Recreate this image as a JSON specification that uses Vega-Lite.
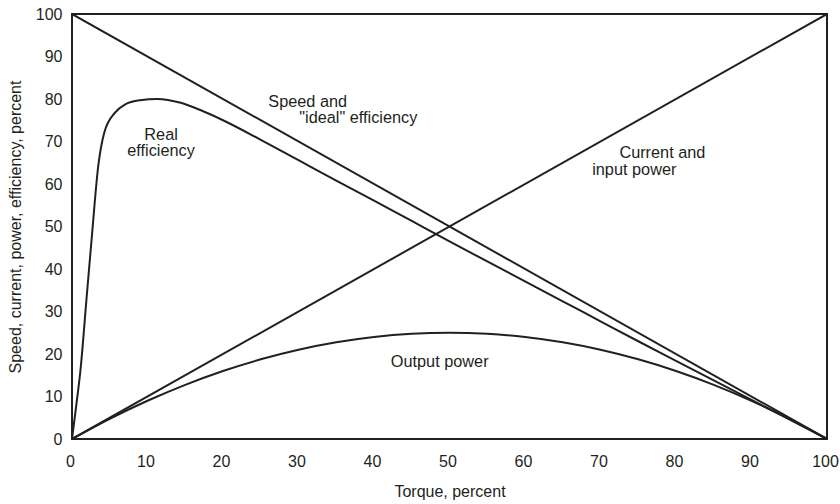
{
  "$schema": "https://vega.github.io/schema/vega-lite/v6.json",
  "width": 755,
  "height": 425,
  "autosize": {"type": "none"},
  "padding": {"left": 72, "top": 14, "right": 13, "bottom": 65},
  "background": "white",
  "config": {
    "view": {"stroke": "#231f20", "strokeWidth": 2},
    "font": "Liberation Sans",
    "axis": {"grid": false, "domain": false, "ticks": false, "labelFlush": false, "labelFont": "Liberation Sans", "titleFont": "Liberation Sans", "labelColor": "#231f20", "titleColor": "#231f20", "titleFontWeight": "normal"}
  },
  "datasets": {
    "curves": [
      {"series": "speed", "x": 0, "y": 100},
      {"series": "speed", "x": 100, "y": 0},
      {"series": "current", "x": 0, "y": 0},
      {"series": "current", "x": 100, "y": 100},
      {"series": "output", "x": 0, "y": 0},
      {"series": "output", "x": 5, "y": 4.75},
      {"series": "output", "x": 10, "y": 9},
      {"series": "output", "x": 15, "y": 12.75},
      {"series": "output", "x": 20, "y": 16},
      {"series": "output", "x": 25, "y": 18.75},
      {"series": "output", "x": 30, "y": 21},
      {"series": "output", "x": 35, "y": 22.75},
      {"series": "output", "x": 40, "y": 24},
      {"series": "output", "x": 45, "y": 24.75},
      {"series": "output", "x": 50, "y": 25},
      {"series": "output", "x": 55, "y": 24.75},
      {"series": "output", "x": 60, "y": 24},
      {"series": "output", "x": 65, "y": 22.75},
      {"series": "output", "x": 70, "y": 21},
      {"series": "output", "x": 75, "y": 18.75},
      {"series": "output", "x": 80, "y": 16},
      {"series": "output", "x": 85, "y": 12.75},
      {"series": "output", "x": 90, "y": 9},
      {"series": "output", "x": 95, "y": 4.75},
      {"series": "output", "x": 100, "y": 0},
      {"series": "eff", "x": 0, "y": 0},
      {"series": "eff", "x": 0.5, "y": 7},
      {"series": "eff", "x": 1.15, "y": 16.7},
      {"series": "eff", "x": 1.9, "y": 32.5},
      {"series": "eff", "x": 2.66, "y": 48.3},
      {"series": "eff", "x": 3.46, "y": 64},
      {"series": "eff", "x": 4.26, "y": 72},
      {"series": "eff", "x": 5.7, "y": 76.8},
      {"series": "eff", "x": 7, "y": 78.7},
      {"series": "eff", "x": 9, "y": 79.7},
      {"series": "eff", "x": 11.3, "y": 80},
      {"series": "eff", "x": 14.4, "y": 79.1},
      {"series": "eff", "x": 17, "y": 77.4},
      {"series": "eff", "x": 20, "y": 75},
      {"series": "eff", "x": 25, "y": 70.4},
      {"series": "eff", "x": 30, "y": 65.6},
      {"series": "eff", "x": 35, "y": 60.8},
      {"series": "eff", "x": 40, "y": 56.1},
      {"series": "eff", "x": 45, "y": 51.3},
      {"series": "eff", "x": 50, "y": 46.5},
      {"series": "eff", "x": 55, "y": 41.8},
      {"series": "eff", "x": 60, "y": 37.1},
      {"series": "eff", "x": 65, "y": 32.4},
      {"series": "eff", "x": 70, "y": 27.7},
      {"series": "eff", "x": 75, "y": 23},
      {"series": "eff", "x": 80, "y": 18.4},
      {"series": "eff", "x": 85, "y": 13.8},
      {"series": "eff", "x": 90, "y": 9.2},
      {"series": "eff", "x": 95, "y": 4.6},
      {"series": "eff", "x": 100, "y": 0}
    ],
    "labels": [
      {"x": 11.8, "y": 71.6, "text": "Real", "align": "center"},
      {"x": 11.8, "y": 67.8, "text": "efficiency", "align": "center"},
      {"x": 26.0, "y": 79.4, "text": "Speed and", "align": "left"},
      {"x": 30.1, "y": 75.5, "text": "\"ideal\" efficiency", "align": "left"},
      {"x": 72.5, "y": 67.3, "text": "Current and", "align": "left"},
      {"x": 68.9, "y": 63.3, "text": "input power", "align": "left"},
      {"x": 48.7, "y": 18.2, "text": "Output power", "align": "center"}
    ]
  },
  "layer": [
    {
      "data": {"name": "curves"},
      "mark": {"type": "line", "interpolate": "monotone", "color": "#231f20", "strokeWidth": 2, "clip": true},
      "encoding": {
        "x": {"field": "x", "type": "quantitative", "scale": {"domain": [0, 100], "nice": false},
          "axis": {"values": [0,10,20,30,40,50,60,70,80,90,100], "title": "Torque, percent", "labelFontSize": 16, "titleFontSize": 16, "labelPadding": 14, "labelOffset": -2, "titlePadding": 14}},
        "y": {"field": "y", "type": "quantitative", "scale": {"domain": [0, 100], "nice": false},
          "axis": {"values": [0,10,20,30,40,50,60,70,80,90,100], "title": "Speed, current, power, efficiency, percent", "labelFontSize": 16, "titleFontSize": 16, "labelPadding": 10, "titlePadding": 12}},
        "detail": {"field": "series", "type": "nominal"},
        "order": {"field": "x", "type": "quantitative"}
      }
    },
    {
      "data": {"name": "labels"},
      "transform": [{"filter": "datum.align == 'center'"}],
      "mark": {"type": "text", "fontSize": 16.3, "color": "#231f20", "align": "center", "baseline": "middle"},
      "encoding": {
        "x": {"field": "x", "type": "quantitative"},
        "y": {"field": "y", "type": "quantitative"},
        "text": {"field": "text"}
      }
    },
    {
      "data": {"name": "labels"},
      "transform": [{"filter": "datum.align == 'left'"}],
      "mark": {"type": "text", "fontSize": 16.3, "color": "#231f20", "align": "left", "baseline": "middle"},
      "encoding": {
        "x": {"field": "x", "type": "quantitative"},
        "y": {"field": "y", "type": "quantitative"},
        "text": {"field": "text"}
      }
    }
  ]
}
